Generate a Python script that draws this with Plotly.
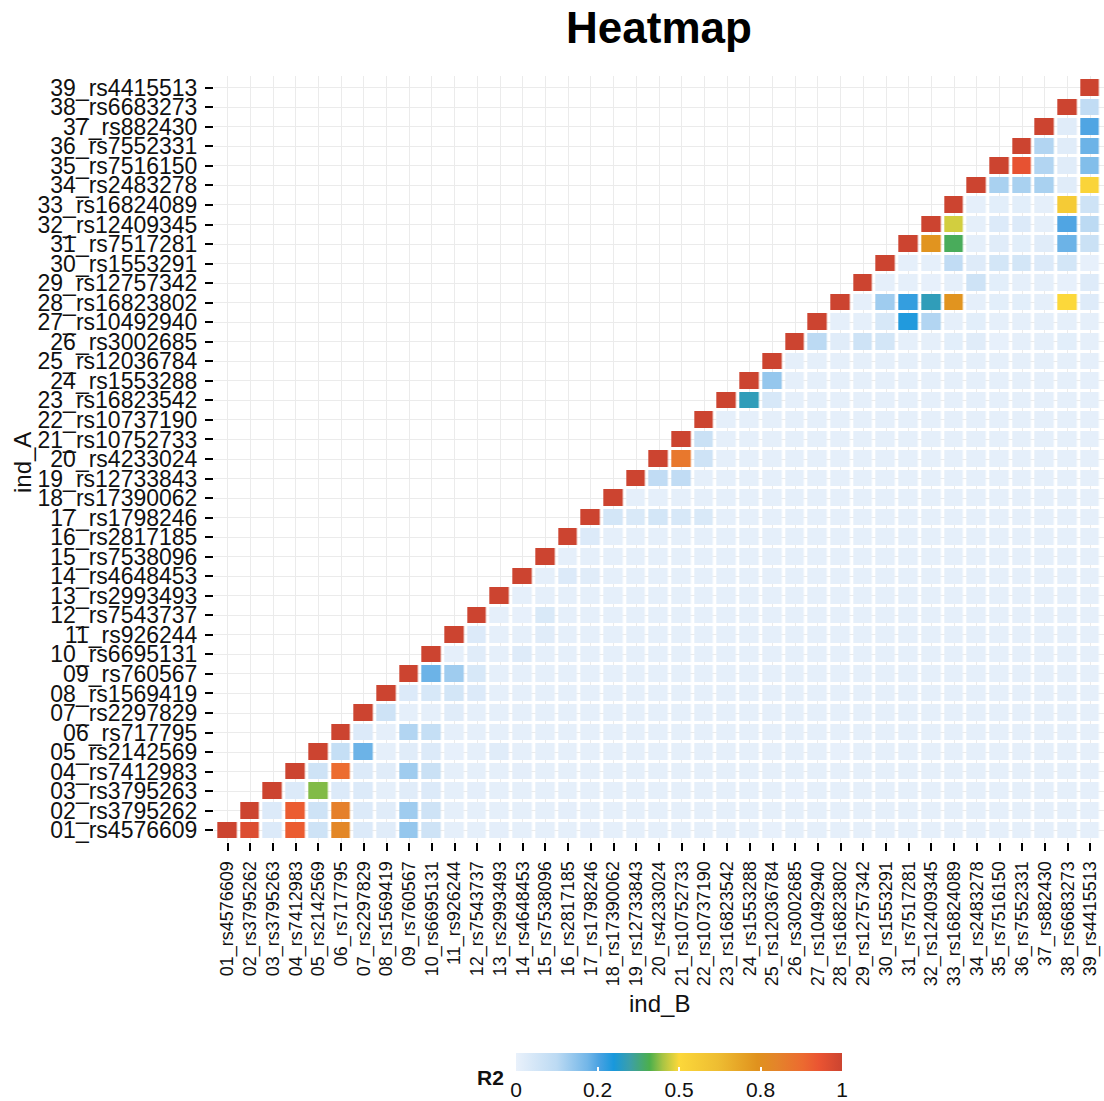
import numpy as np
import plotly.graph_objects as go

snps = ["01_rs4576609", "02_rs3795262", "03_rs3795263", "04_rs7412983", "05_rs2142569",
        "06_rs717795", "07_rs2297829", "08_rs1569419", "09_rs760567", "10_rs6695131",
        "11_rs926244", "12_rs7543737", "13_rs2993493", "14_rs4648453", "15_rs7538096",
        "16_rs2817185", "17_rs1798246", "18_rs17390062", "19_rs12733843", "20_rs4233024",
        "21_rs10752733", "22_rs10737190", "23_rs16823542", "24_rs1553288", "25_rs12036784",
        "26_rs3002685", "27_rs10492940", "28_rs16823802", "29_rs12757342", "30_rs1553291",
        "31_rs7517281", "32_rs12409345", "33_rs16824089", "34_rs2483278", "35_rs7516150",
        "36_rs7552331", "37_rs882430", "38_rs6683273", "39_rs4415513"]

# R2 for row ind_A = i, columns ind_B = i..39 (upper triangle)
r2_rows = [
    [1, 0.97, 0.03, 0.93, 0.06, 0.83, 0.03, 0.02, 0.14, 0.06, 0.01, 0.01, 0.012, 0.01, 0.01, 0.01, 0.012, 0.01, 0.01, 0.01,
     0.01, 0.01, 0.01, 0.01, 0.005, 0.01, 0.01, 0.01, 0.01, 0.01, 0.01, 0.01, 0.01, 0.01, 0.01, 0.01, 0.01, 0.01, 0.01],
    [1, 0.03, 0.93, 0.06, 0.85, 0.03, 0.02, 0.13, 0.06, 0.01, 0.01, 0.01, 0.01, 0.01, 0.012, 0.01, 0.01, 0.01, 0.01,
     0.01, 0.01, 0.01, 0.01, 0.01, 0.01, 0.01, 0.01, 0.01, 0.01, 0.01, 0.01, 0.01, 0.01, 0.01, 0.01, 0.01, 0.01, 0.01],
    [1, 0.03, 0.42, 0.03, 0.03, 0.01, 0.02, 0.03, 0.01, 0.012, 0.01, 0.01, 0.01, 0.01, 0.01, 0.01, 0.01, 0.01,
     0.01, 0.01, 0.01, 0.01, 0.01, 0.005, 0.01, 0.01, 0.01, 0.01, 0.01, 0.01, 0.01, 0.01, 0.01, 0.01, 0.01, 0.01, 0.01],
    [1, 0.06, 0.9, 0.03, 0.02, 0.13, 0.07, 0.01, 0.01, 0.01, 0.012, 0.01, 0.01, 0.01, 0.01, 0.01, 0.01,
     0.01, 0.01, 0.01, 0.01, 0.01, 0.01, 0.01, 0.01, 0.01, 0.01, 0.01, 0.01, 0.01, 0.01, 0.01, 0.01, 0.01, 0.01, 0.01],
    [1, 0.08, 0.18, 0.01, 0.02, 0.03, 0.005, 0.01, 0.02, 0.01, 0.01, 0.01, 0.01, 0.01, 0.01, 0.01,
     0.01, 0.01, 0.01, 0.01, 0.01, 0.01, 0.01, 0.005, 0.01, 0.01, 0.01, 0.01, 0.01, 0.01, 0.01, 0.01, 0.01, 0.01, 0.01],
    [1, 0.03, 0.01, 0.11, 0.08, 0.01, 0.01, 0.01, 0.01, 0.01, 0.01, 0.01, 0.01, 0.01, 0.01,
     0.01, 0.01, 0.01, 0.01, 0.01, 0.01, 0.01, 0.01, 0.01, 0.01, 0.01, 0.01, 0.01, 0.01, 0.01, 0.01, 0.01, 0.01, 0.01],
    [1, 0.06, 0.01, 0.01, 0.02, 0.01, 0.01, 0.01, 0.01, 0.01, 0.01, 0.01, 0.01, 0.01,
     0.01, 0.01, 0.01, 0.01, 0.01, 0.01, 0.01, 0.01, 0.01, 0.01, 0.01, 0.01, 0.01, 0.01, 0.01, 0.01, 0.01, 0.01, 0.01],
    [1, 0.03, 0.04, 0.05, 0.03, 0.01, 0.01, 0.01, 0.01, 0.01, 0.01, 0.01, 0.01,
     0.01, 0.01, 0.01, 0.01, 0.01, 0.01, 0.01, 0.01, 0.01, 0.01, 0.01, 0.01, 0.01, 0.01, 0.01, 0.01, 0.01, 0.01, 0.01],
    [1, 0.18, 0.13, 0.04, 0.01, 0.01, 0.01, 0.01, 0.01, 0.01, 0.01, 0.01,
     0.01, 0.01, 0.01, 0.01, 0.01, 0.01, 0.01, 0.01, 0.01, 0.01, 0.01, 0.01, 0.01, 0.01, 0.01, 0.01, 0.01, 0.01, 0.01],
    [1, 0.01, 0.02, 0.01, 0.025, 0.01, 0.01, 0.01, 0.01, 0.01, 0.01,
     0.01, 0.01, 0.01, 0.01, 0.01, 0.01, 0.01, 0.01, 0.01, 0.01, 0.01, 0.01, 0.01, 0.01, 0.01, 0.01, 0.01, 0.01, 0.01],
    [1, 0.03, 0.01, 0.01, 0.02, 0.01, 0.01, 0.01, 0.01, 0.01,
     0.01, 0.01, 0.01, 0.01, 0.01, 0.01, 0.01, 0.01, 0.01, 0.01, 0.01, 0.01, 0.01, 0.01, 0.01, 0.01, 0.01, 0.01, 0.01],
    [1, 0.01, 0.005, 0.035, 0.01, 0.01, 0.01, 0.01, 0.01,
     0.01, 0.01, 0.01, 0.01, 0.01, 0.01, 0.01, 0.01, 0.01, 0.01, 0.01, 0.01, 0.01, 0.01, 0.01, 0.01, 0.01, 0.01, 0.01],
    [1, 0.01, 0.01, 0.01, 0.01, 0.01, 0.01, 0.01,
     0.01, 0.01, 0.01, 0.01, 0.01, 0.01, 0.01, 0.01, 0.01, 0.01, 0.01, 0.01, 0.01, 0.01, 0.01, 0.01, 0.01, 0.01, 0.01],
    [1, 0.01, 0.03, 0.02, 0.01, 0.01, 0.01,
     0.01, 0.01, 0.01, 0.01, 0.01, 0.01, 0.01, 0.01, 0.01, 0.01, 0.01, 0.01, 0.01, 0.01, 0.01, 0.01, 0.01, 0.01, 0.01],
    [1, 0.01, 0.01, 0.01, 0.01, 0.01,
     0.01, 0.01, 0.01, 0.01, 0.01, 0.01, 0.01, 0.01, 0.01, 0.01, 0.01, 0.01, 0.01, 0.01, 0.01, 0.01, 0.01, 0.01, 0.01],
    [1, 0.03, 0.01, 0.01, 0.01,
     0.01, 0.01, 0.01, 0.01, 0.01, 0.01, 0.01, 0.01, 0.01, 0.01, 0.01, 0.01, 0.01, 0.01, 0.01, 0.01, 0.01, 0.01, 0.01],
    [1, 0.05, 0.035, 0.05, 0.04, 0.035, 0.01, 0.01, 0.01, 0.01, 0.01, 0.01, 0.01, 0.01,
     0.01, 0.01, 0.01, 0.01, 0.01, 0.01, 0.01, 0.01, 0.01],
    [1, 0.01, 0.01, 0.01, 0.01, 0.01, 0.01, 0.01, 0.01, 0.01, 0.01, 0.01, 0.01,
     0.01, 0.01, 0.01, 0.01, 0.01, 0.01, 0.01, 0.01, 0.01],
    [1, 0.09, 0.09, 0.01, 0.01, 0.01, 0.01, 0.01, 0.01, 0.01, 0.01,
     0.01, 0.01, 0.01, 0.01, 0.01, 0.01, 0.01, 0.01, 0.01, 0.01],
    [1, 0.87, 0.06, 0.01, 0.01, 0.01, 0.01, 0.01, 0.01, 0.01,
     0.01, 0.01, 0.01, 0.01, 0.01, 0.01, 0.01, 0.01, 0.01, 0.01],
    [1, 0.07, 0.01, 0.01, 0.01, 0.01, 0.01, 0.01, 0.01,
     0.01, 0.01, 0.01, 0.01, 0.01, 0.01, 0.01, 0.01, 0.01, 0.01],
    [1, 0.01, 0.01, 0.01, 0.01, 0.01, 0.01, 0.01,
     0.01, 0.01, 0.01, 0.01, 0.01, 0.01, 0.01, 0.01, 0.01, 0.01],
    [1, 0.3, 0.04, 0.01, 0.01, 0.01, 0.01, 0.01, 0.01, 0.01, 0.01, 0.01, 0.01, 0.01, 0.01, 0.01, 0.01],
    [1, 0.14, 0.01, 0.01, 0.01, 0.01, 0.01, 0.01, 0.01, 0.01, 0.01, 0.01, 0.01, 0.01, 0.01, 0.01],
    [1, 0.01, 0.01, 0.01, 0.01, 0.01, 0.01, 0.01, 0.01, 0.01, 0.01, 0.01, 0.01, 0.01, 0.01],
    [1, 0.1, 0.02, 0.06, 0.05, 0.01, 0.01, 0.015, 0.02, 0.005, 0.01, 0.008, 0.015, 0.01],
    [1, 0.01, 0.01, 0.04, 0.25, 0.11, 0.01, 0.015, 0.01, 0.01, 0.01, 0.01, 0.01],
    [1, 0.01, 0.13, 0.23, 0.3, 0.78, 0.01, 0.015, 0.015, 0.01, 0.5, 0.025],
    [1, 0.01, 0.01, 0.005, 0.01, 0.06, 0.015, 0.01, 0.01, 0.005, 0.025],
    [1, 0.01, 0.01, 0.09, 0.025, 0.05, 0.05, 0.03, 0.05, 0.005],
    [1, 0.78, 0.38, 0.01, 0.02, 0.015, 0.02, 0.18, 0.07],
    [1, 0.47, 0.01, 0.03, 0.03, 0.01, 0.2, 0.1],
    [1, 0.01, 0.015, 0.015, 0.01, 0.57, 0.06],
    [1, 0.12, 0.12, 0.12, 0.02, 0.52],
    [1, 0.95, 0.11, 0.02, 0.16],
    [1, 0.11, 0.02, 0.18],
    [1, 0.02, 0.2],
    [1, 0.09],
    [1],
]

# colour legend breaks (equally spaced on the legend)
legend_breaks = [0, 0.2, 0.5, 0.8, 1]
legend_labels = ["0", "0.2", "0.5", "0.8", "1"]

n = len(snps)
for i, row in enumerate(r2_rows):
    assert len(row) == n - i, (i, len(row))

Z = np.full((n, n), np.nan)
for i, row in enumerate(r2_rows):
    Z[i, i:] = row

breaks_pos = np.linspace(0, 1, len(legend_breaks))
T = np.interp(Z, legend_breaks, breaks_pos)
T[np.isnan(Z)] = np.nan

colorscale = [
    [0.0, "#e9f1fb"],
    [0.125, "#bcdaf3"],
    [0.22, "#72b6e8"],
    [0.255, "#4aa2e2"],
    [0.30, "#1898dc"],
    [0.35, "#3c9fa8"],
    [0.41, "#4caf4c"],
    [0.45, "#a8c444"],
    [0.50, "#fcd83a"],
    [0.62, "#eebd32"],
    [0.74, "#e0921e"],
    [0.80, "#e4842a"],
    [0.88, "#ec6a30"],
    [0.93, "#ea5432"],
    [1.0, "#cc4430"],
]

W, H = 1104, 1101
ML, MR, MT, MB = 214, 0, 76, 259
pw, ph = W - ML - MR, H - MT - MB


def px(xp):
    return (xp - ML) / pw


def py(yp):
    return (H - MB - yp) / ph


idx = list(range(1, n + 1))
FONT = "Liberation Sans, Arial, sans-serif"

fig = go.Figure(go.Heatmap(
    z=T, x=idx, y=idx,
    zmin=0, zmax=1,
    colorscale=colorscale,
    xgap=3.5, ygap=3,
    hoverongaps=False,
    colorbar=dict(
        orientation="h",
        x=px(679), xanchor="center", xref="paper",
        y=py(1053), yanchor="top", yref="paper",
        len=326, lenmode="pixels",
        thickness=18, thicknessmode="pixels",
        outlinewidth=0, xpad=0, ypad=0,
        tickvals=list(breaks_pos), ticktext=legend_labels,
        ticks="inside", tickcolor="white", ticklen=4, tickwidth=1.5,
        tickfont=dict(size=21, color="#111111", family=FONT),
    ),
))

axis_common = dict(
    tickmode="array", tickvals=idx, ticktext=snps,
    range=[0.4, n + 0.6],
    showgrid=True, gridcolor="#ebebeb", gridwidth=1.3,
    zeroline=False, showline=False,
    ticks="outside", ticklen=8, tickwidth=2, tickcolor="black",
)

fig.update_xaxes(**axis_common, tickangle=-90, ticklabelstandoff=3,
                 tickfont=dict(size=18, color="#111111", family=FONT))
fig.update_yaxes(**axis_common, ticklabelstandoff=3,
                 tickfont=dict(size=23, color="#111111", family=FONT))

fig.update_layout(
    width=W, height=H,
    margin=dict(l=ML, r=MR, t=MT, b=MB, autoexpand=False),
    paper_bgcolor="white", plot_bgcolor="white",
    font=dict(family=FONT, color="black"),
    title=dict(text="<b>Heatmap</b>", x=659 / W, xanchor="center", xref="container",
               y=1 - 28 / H, yanchor="middle", yref="container",
               font=dict(size=44, color="black")),
    annotations=[
        dict(text="ind_A", x=px(22), y=py(463), xref="paper", yref="paper",
             textangle=-90, showarrow=False, font=dict(size=24, color="#111111"),
             xanchor="center", yanchor="middle"),
        dict(text="ind_B", x=px(659), y=py(1003), xref="paper", yref="paper",
             showarrow=False, font=dict(size=24, color="#111111"),
             xanchor="center", yanchor="middle"),
        dict(text="<b>R2</b>", x=px(490), y=py(1077), xref="paper", yref="paper",
             showarrow=False, font=dict(size=21, color="#111111"),
             xanchor="center", yanchor="middle"),
    ],
)

fig.write_html("out.html")
